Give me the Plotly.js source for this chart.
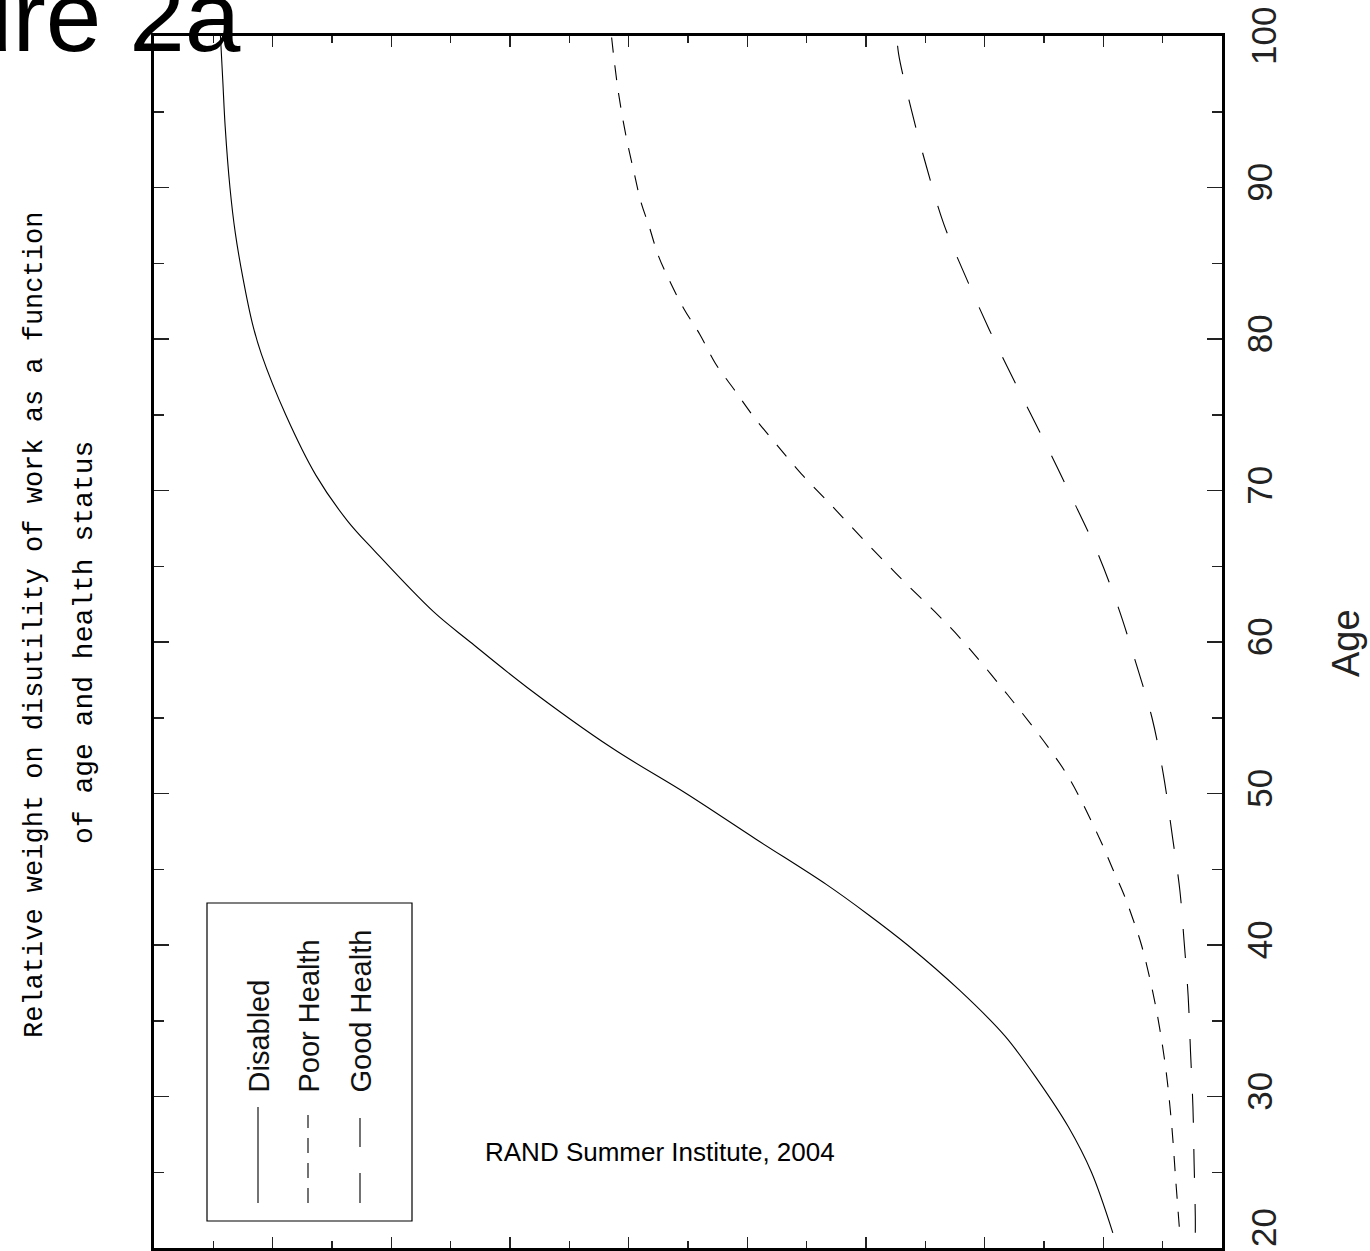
<!DOCTYPE html>
<html>
<head>
<meta charset="utf-8">
<script src="https://cdn.plot.ly/plotly-3.0.1.min.js"></script>
<style>html,body{margin:0;padding:0;background:#fff;}#chart{width:1370px;height:1251px;}</style>
</head>
<body>
<div id="chart"></div>
<script>
// ---- data ----
const disabledAge = [21, 25, 28, 31, 34, 37, 40, 42, 44, 47, 50, 53, 57, 60, 62, 66, 68, 71, 75, 79, 81, 84, 87, 90, 94, 97, 100];
const disabledVal = [0.184, 0.220, 0.259, 0.309, 0.366, 0.442, 0.530, 0.596, 0.667, 0.786, 0.903, 1.028, 1.171, 1.267, 1.329, 1.428, 1.474, 1.527, 1.578, 1.619, 1.634, 1.650, 1.663, 1.672, 1.680, 1.684, 1.688];

const poorAge = [21.4, 24.5, 28.2, 32.2, 36.2, 39.9, 41.7, 43.4, 45, 47, 50.9, 52.9, 56.5, 60.2, 62.0, 63.8, 65.6, 67.5, 69.3, 71.1, 73.0, 74.8, 76.6, 78.4, 80.3, 82, 84, 85.5, 87.5, 89, 91, 93.5, 96.2, 98.6, 100];
const poorVal = [0.072, 0.078, 0.085, 0.096, 0.113, 0.135, 0.150, 0.166, 0.184, 0.206, 0.256, 0.290, 0.361, 0.440, 0.484, 0.531, 0.576, 0.622, 0.665, 0.709, 0.750, 0.788, 0.821, 0.854, 0.880, 0.907, 0.933, 0.950, 0.966, 0.979, 0.991, 1.005, 1.017, 1.025, 1.029];

const goodAge = [21, 22.1, 25.6, 29.3, 32.9, 36.6, 40.3, 43.6, 47, 51.3, 55.0, 58.6, 62.3, 66.0, 69.6, 73.3, 76.9, 80.6, 84.2, 87.6, 91.5, 95.2, 98.8, 100];
const goodVal = [0.045, 0.045, 0.047, 0.049, 0.053, 0.057, 0.064, 0.071, 0.083, 0.099, 0.118, 0.145, 0.175, 0.211, 0.254, 0.300, 0.346, 0.392, 0.433, 0.469, 0.499, 0.524, 0.545, 0.548];

const seriesNames = ["Disabled", "Poor Health", "Good Health"];
const ageTicks = [20, 30, 40, 50, 60, 70, 80, 90, 100];
const ageTickText = ["", "30", "40", "50", "60", "70", "80", "90", ""];
const edgeTickLabels = ["20", "100"];
const titleLine1 = "Relative weight on disutility of work as a function";
const titleLine2 = "of age and health status";
const ageTitle = "Age";
const creditText = "RAND Summer Institute, 2004";
const slideTitle = "Figure 2a";

// ---- layout helpers (pixel -> paper) ----
const L = 154, R = 1222, T = 36, B = 1248;
const px = x => (x - L) / (R - L);
const py = y => (B - y) / (B - T);

const monoFont = "Liberation Mono, Courier New, monospace";
const narrowFont = "Liberation Sans Narrow, Arial Narrow, Liberation Sans, sans-serif";
const sansFont = "Liberation Sans, Arial, sans-serif";
const tickSize = 35;

const traces = [
  {x: disabledVal, y: disabledAge, name: seriesNames[0], mode: "lines",
   line: {color: "#000", width: 1.1, shape: "spline", smoothing: 1}},
  {x: poorVal, y: poorAge, name: seriesNames[1], mode: "lines",
   line: {color: "#000", width: 1.1, dash: "15px,13px", shape: "spline", smoothing: 1}},
  {x: goodVal, y: goodAge, name: seriesNames[2], mode: "lines",
   line: {color: "#000", width: 1.1, dash: "29px,26px", shape: "spline", smoothing: 1}}
];

const layout = {
  width: 1370, height: 1251,
  margin: {l: L, r: 1370 - R, t: T, b: 1251 - B, pad: 0},
  paper_bgcolor: "#fff", plot_bgcolor: "#fff",
  showlegend: false,
  xaxis: {
    range: [1.8, 0], showgrid: false, zeroline: false,
    showline: true, linewidth: 3, linecolor: "#000", mirror: "ticks",
    ticks: "inside", tick0: 0, dtick: 0.2, ticklen: 11, tickwidth: 1.5, tickcolor: "#222",
    showticklabels: false,
    minor: {ticks: "inside", dtick: 0.1, tick0: 0, ticklen: 7, tickwidth: 1.5, tickcolor: "#222"}
  },
  yaxis: {
    range: [20, 100], side: "right", showgrid: false, zeroline: false,
    showline: true, linewidth: 3, linecolor: "#000", mirror: "ticks",
    ticks: "inside", tickmode: "array", tickvals: ageTicks, ticktext: ageTickText,
    ticklen: 15, tickwidth: 1.5, tickcolor: "#222",
    tickangle: -90, ticklabelstandoff: 5,
    tickfont: {family: narrowFont, size: tickSize, color: "#222"},
    minor: {ticks: "inside", dtick: 5, tick0: 0, ticklen: 10, tickwidth: 1.5, tickcolor: "#222"}
  },
  shapes: [
    {type: "rect", xref: "paper", yref: "paper", x0: px(207), x1: px(412), y0: py(1221), y1: py(903),
     line: {color: "#000", width: 1.2}, fillcolor: "rgba(0,0,0,0)"},
    {type: "line", xref: "paper", yref: "paper", x0: px(258), x1: px(258), y0: py(1203), y1: py(1107),
     line: {color: "#000", width: 1.1}},
    {type: "line", xref: "paper", yref: "paper", x0: px(308), x1: px(308), y0: py(1203), y1: py(1115),
     line: {color: "#000", width: 1.1, dash: "15px,10px"}},
    {type: "line", xref: "paper", yref: "paper", x0: px(360), x1: px(360), y0: py(1203), y1: py(1118),
     line: {color: "#000", width: 1.1, dash: "30px,26px"}}
  ],
  annotations: [
    {text: titleLine1, xref: "paper", yref: "paper", x: px(35), y: py(625), xanchor: "center", yanchor: "middle",
     textangle: -90, showarrow: false, font: {family: monoFont, size: 27, color: "#000"}},
    {text: titleLine2, xref: "paper", yref: "paper", x: px(85), y: py(643), xanchor: "center", yanchor: "middle",
     textangle: -90, showarrow: false, font: {family: monoFont, size: 28, color: "#000"}},
    {text: ageTitle, xref: "paper", yref: "paper", x: px(1346), y: py(643), xanchor: "center", yanchor: "middle",
     textangle: -90, showarrow: false, font: {family: narrowFont, size: 38, color: "#222"}},
    {text: edgeTickLabels[0], xref: "paper", yref: "paper", x: px(1263), y: py(1228), xanchor: "center", yanchor: "middle",
     textangle: -90, showarrow: false, font: {family: narrowFont, size: tickSize, color: "#222"}},
    {text: edgeTickLabels[1], xref: "paper", yref: "paper", x: px(1263), y: py(36), xanchor: "center", yanchor: "middle",
     textangle: -90, showarrow: false, font: {family: narrowFont, size: tickSize, color: "#222"}},
    {text: seriesNames[0], xref: "paper", yref: "paper", x: px(258), y: py(1095), xanchor: "center", yanchor: "bottom",
     textangle: -90, showarrow: false, font: {family: sansFont, size: 29, color: "#111"}},
    {text: seriesNames[1], xref: "paper", yref: "paper", x: px(308), y: py(1095), xanchor: "center", yanchor: "bottom",
     textangle: -90, showarrow: false, font: {family: sansFont, size: 29, color: "#111"}},
    {text: seriesNames[2], xref: "paper", yref: "paper", x: px(360), y: py(1095), xanchor: "center", yanchor: "bottom",
     textangle: -90, showarrow: false, font: {family: sansFont, size: 29, color: "#111"}},
    {text: creditText, xref: "paper", yref: "paper", x: px(660), y: py(1152), xanchor: "center", yanchor: "middle",
     showarrow: false, font: {family: sansFont, size: 26, color: "#000"}},
    {text: slideTitle, xref: "paper", yref: "paper", x: px(243), y: py(74), xanchor: "right", yanchor: "bottom",
     showarrow: false, font: {family: sansFont, size: 100, color: "#000"}}
  ]
};

Plotly.newPlot("chart", traces, layout, {staticPlot: true, displayModeBar: false});
</script>
</body>
</html>
